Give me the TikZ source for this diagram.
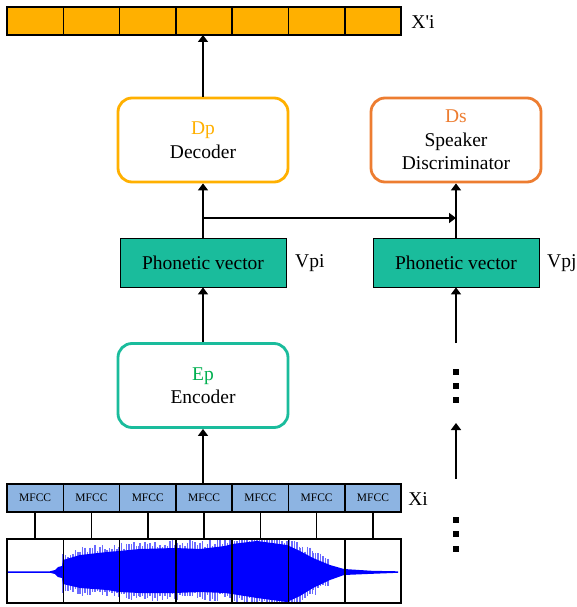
\documentclass[tikz,border=0pt]{standalone}
\usepackage{fontspec}
\setmainfont{Liberation Serif}
\usetikzlibrary{arrows.meta}
\definecolor{barorange}{HTML}{FFB000}
\definecolor{dporange}{HTML}{FFB000}
\definecolor{dsorange}{HTML}{ED7D31}
\definecolor{tealc}{HTML}{1ABC9C}
\definecolor{epgreen}{HTML}{00B050}
\definecolor{mfccblue}{HTML}{8DB4E2}
\definecolor{wblue}{HTML}{0000FF}
\definecolor{wlight}{HTML}{6A6AFF}
\begin{document}
\begin{tikzpicture}[x=1pt,y=-1pt,
  cellbox/.style={draw=black, line width=1.6pt, minimum width=56.3pt, minimum height=28pt, inner sep=0pt, outer sep=0pt},
  wavecell/.style={draw=black, line width=1.6pt, minimum width=56.3pt, minimum height=64pt, inner sep=0pt, outer sep=0pt},
  rbox/.style={rounded corners=14pt, line width=2.8pt, minimum width=170pt, minimum height=84pt, align=center, fill=white, font=\fontsize{19.5}{23.5}\selectfont},
  pvbox/.style={draw=black, line width=0.8pt, fill=tealc, minimum width=166pt, minimum height=49pt, font=\fontsize{19.5}{23.5}\selectfont},
  arr/.style={line width=1.6pt, -{Triangle[width=10pt,length=7pt]}},
  plain/.style={line width=1.6pt},
  lbl/.style={font=\fontsize{19.5}{23.5}\selectfont, inner sep=0pt},
  dotbox/.style={fill=black, minimum size=6pt, inner sep=0pt},
  mfcctxt/.style={font=\fontsize{11.5}{12}\selectfont}
]
\useasboundingbox (0,0) rectangle (576,607);

% top output bar
\foreach \i in {1,...,7}
  \node[cellbox, fill=barorange] (x\i) at ({7+56.3*(\i-0.5)},21) {};
\node[lbl] (xlab) at (423,22) {X\textquotesingle i};

% decoder and discriminator
\node[rbox, draw=dporange] (dec) at (203,140) {\textcolor{dporange}{Dp}\\Decoder};
\node[rbox, draw=dsorange] (ds) at (456,140) {\textcolor{dsorange}{Ds}\\Speaker\\Discriminator};

% phonetic vectors
\node[pvbox] (pvL) at (203,262.5) {Phonetic vector};
\node[pvbox] (pvR) at (456,262.5) {Phonetic vector};
\node[lbl, anchor=west] (vpi) at (295,263) {Vpi};
\node[lbl, anchor=west] (vpj) at (547,263) {Vpj};

% encoder
\node[rbox, draw=tealc] (enc) at (203,385.5) {\textcolor{epgreen}{Ep}\\Encoder};

% MFCC bar
\foreach \i in {1,...,7}
  \node[cellbox, fill=mfccblue, mfcctxt] (m\i) at ({7+56.3*(\i-0.5)},498) {MFCC};
\node[lbl] (xilab) at (418,499) {Xi};

% waveform
\begin{scope}
\clip (7,539) rectangle (401,603);
\pgfmathsetseed{11}
\foreach \xa/\ta/\ba/\xb/\tb/\bb in {
  63/560/584/80/555/588,
  80/555/588/107/552/590,
  107/552/590/119/551/592,
  119/551/592/140/549/593,
  140/549/593/175/548/593,
  175/548/593/200/549/592,
  200/549/592/225/546/593,
  225/546/593/232/544/594,
  232/544/594/257/541/598,
  257/541/598/287/545/602,
  287/545/602/300/551/596,
  300/551/596/313/558/588,
  313/558/588/330/565/580}{
  \pgfmathtruncatemacro\nn{(\xb-\xa)/2.5}
  \foreach \k in {0,...,\nn}{
    \pgfmathsetmacro\xx{\xa+2.5*\k}
    \pgfmathsetmacro\yT{\ta+(\tb-\ta)*2.5*\k/(\xb-\xa)-1-8*rnd}
    \pgfmathsetmacro\yB{\ba+(\bb-\ba)*2.5*\k/(\xb-\xa)+1+8*rnd}
    \draw[wlight, line width=1.1pt] (\xx,\yT) -- (\xx,\yB);
  }
}
\fill[wblue] (7,571.3) -- (50,571.3) -- (55,570) -- (58,567) -- (62,566) -- (63,560) -- (80,555) -- (107,552) -- (119,551)
  -- (140,549) -- (175,548) -- (200,549) -- (225,546) -- (232,544) -- (257,541) -- (287,545) -- (300,551)
  -- (313,558) -- (330,565) -- (344,569) -- (372,570.8) -- (398,571.3) -- (398,572.8) -- (372,573.8) -- (344,575)
  -- (330,580) -- (313,588) -- (300,596) -- (287,602) -- (257,598) -- (232,594) -- (225,593) -- (200,592)
  -- (175,593) -- (140,593) -- (119,592) -- (107,590) -- (80,588) -- (63,584) -- (62,578) -- (58,577)
  -- (55,574) -- (50,572.8) -- (7,572.8) -- cycle;
\end{scope}
\foreach \i in {1,...,7}
  \node[wavecell] (w\i) at ({7+56.3*(\i-0.5)},571) {};
\foreach \i in {1,...,7}
  \draw[plain] (m\i.south) -- (w\i.north);

% connectors left column
\draw[arr] (dec.north) -- (dec.north |- x4.south);
\draw[arr] (pvL.north) -- (dec.south);
\coordinate (j1) at (203,218);
\coordinate (j2) at (456,218);
\draw[arr] (j1) -- (j2);
\draw[plain] (pvR.north) -- (j2);
\draw[arr] (j2) -- (ds.south);
\draw[arr] (enc.north) -- (pvL.south);
\draw[arr] (enc.south |- m4.north) -- (enc.south);

% right column
\coordinate (r1) at (456,343);
\draw[arr] (r1) -- (pvR.south);
\node[dotbox] (d1) at (456,372) {};
\node[dotbox] (d2) at (456,386) {};
\node[dotbox] (d3) at (456,400) {};
\coordinate (r2) at (456,479);
\coordinate (r3) at (456,423);
\draw[arr] (r2) -- (r3);
\node[dotbox] (d4) at (456,520) {};
\node[dotbox] (d5) at (456,534) {};
\node[dotbox] (d6) at (456,549) {};
\end{tikzpicture}
\end{document}
